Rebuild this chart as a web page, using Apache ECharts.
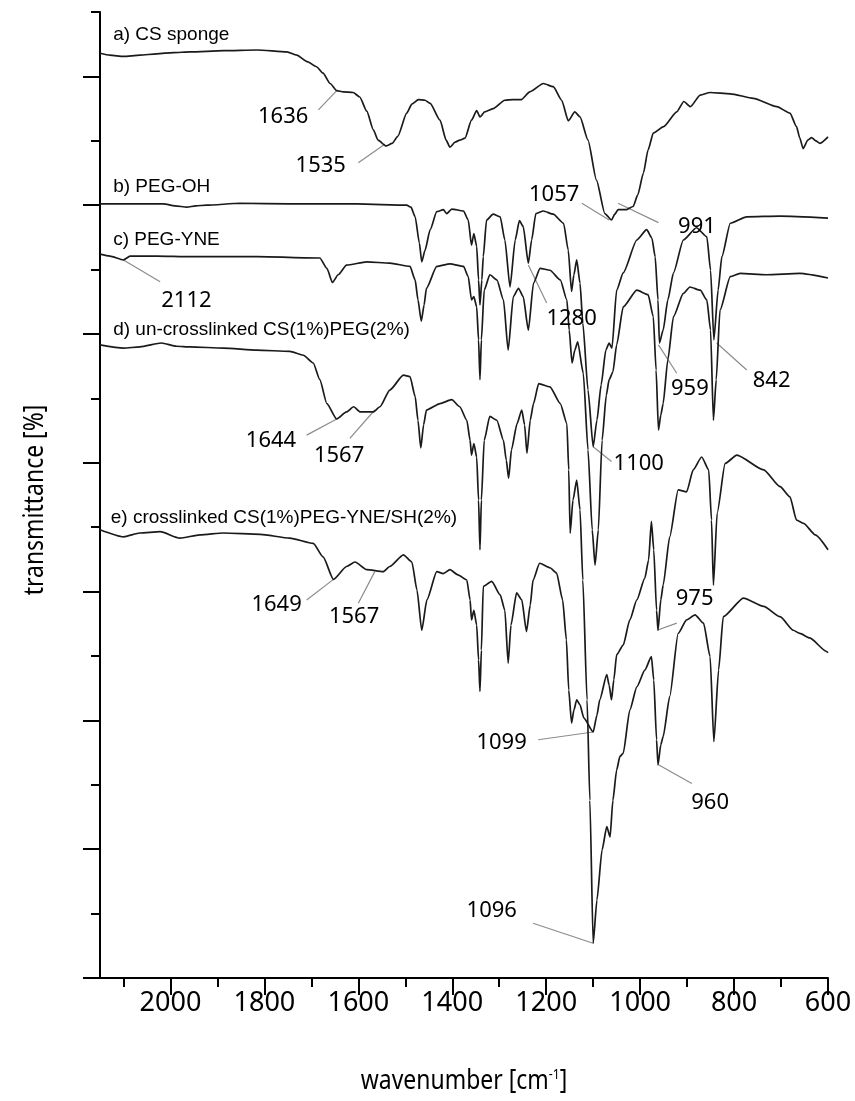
<!DOCTYPE html>
<html>
<head>
<meta charset="utf-8">
<title>FTIR spectra</title>
<script src="https://cdn.jsdelivr.net/npm/echarts@6.0.0/dist/echarts.min.js"></script>
<style>
  html, body { margin: 0; padding: 0; background: #fff; }
  #chart { width: 855px; height: 1101px; }
</style>
</head>
<body>
<div id="chart"></div>
<script>
// spectra as [wavenumber, offset transmittance]
var csSponge = [
  [2150,143.6],[2129,143.3],[2100,143.1],[2065,143.3],[2029,143.5],[1994,143.7],[1958,143.8],[1887,144.0],
  [1816,144.1],[1752,143.8],[1731,143.3],[1709,142.3],[1689,141.5],[1675,140.5],[1660,138.9],[1646,137.8],
  [1632,137.6],[1611,137.5],[1597,136.8],[1582,134.6],[1568,131.7],[1558,130.1],[1541,129.2],[1528,129.6],
  [1516,130.7],[1497,134.3],[1486,135.7],[1472,136.4],[1458,136.3],[1447,135.8],[1426,133.2],[1413,130.1],
  [1405,129.0],[1394,129.8],[1384,130.1],[1373,130.4],[1359,133.2],[1348,134.7],[1341,133.7],[1331,134.5],
  [1313,135.0],[1288,136.3],[1271,136.4],[1253,136.4],[1235,137.6],[1206,138.9],[1185,138.4],[1167,136.3],
  [1153,133.1],[1139,134.5],[1128,133.7],[1111,130.1],[1093,123.9],[1075,118.7],[1061,117.7],[1054,118.6],
  [1047,119.3],[1029,119.3],[1015,119.8],[1005,121.6],[993,125.0],[983,128.6],[972,131.2],[950,132.2],
  [922,134.5],[907,136.1],[893,135.3],[872,137.1],[851,137.5],[808,137.3],[759,136.6],[709,135.3],
  [681,134.3],[667,132.2],[660,130.4],[653,128.8],[643,130.1],[635,130.5],[626,130.0],[617,129.6],[600,130.6]
];
var pegOH = [
  [2150,120.2],[2065,120.2],[2015,120.2],[1990,119.9],[1965,119.7],[1946,119.9],[1923,120.0],[1852,120.3],
  [1746,120.2],[1603,120.2],[1497,120.0],[1488,119.7],[1479,118.2],[1470,114.1],[1465,111.2],[1458,113.0],
  [1447,116.2],[1433,119.0],[1419,119.3],[1412,118.7],[1401,119.4],[1376,119.1],[1366,117.7],[1359,113.8],
  [1354,115.6],[1348,113.6],[1344,108.4],[1341,104.5],[1337,108.4],[1334,112.0],[1327,117.7],[1313,118.6],
  [1298,118.2],[1288,114.6],[1277,107.3],[1266,114.6],[1257,117.6],[1249,116.7],[1238,111.0],[1231,114.6],
  [1222,118.7],[1206,119.1],[1185,118.6],[1163,117.2],[1153,113.0],[1146,106.6],[1141,109.2],[1135,111.5],
  [1128,107.9],[1122,101.7],[1111,91.3],[1100,82.5],[1092,86.6],[1083,92.1],[1073,97.5],[1066,98.6],
  [1060,97.8],[1050,106.8],[1036,109.5],[1007,114.6],[986,116.2],[975,114.9],[968,112.0],[962,105.3],
  [959,98.6],[951,100.6],[941,105.3],[929,109.5],[908,114.6],[880,116.5],[858,115.1],[850,109.9],
  [843,99.1],[834,106.8],[826,112.0],[808,117.2],[773,118.2],[702,118.3],[600,118.0]
];
var pegYNE = [
  [2150,112.4],[2129,112.1],[2100,111.5],[2086,112.1],[2029,112.1],[1958,112.0],[1816,112.0],[1682,111.8],
  [1667,110.2],[1655,108.0],[1643,109.2],[1625,110.7],[1582,111.2],[1533,111.0],[1490,110.5],[1479,108.4],
  [1473,105.3],[1466,102.0],[1460,104.5],[1455,107.1],[1433,110.5],[1405,110.9],[1376,110.5],[1366,108.9],
  [1359,105.3],[1354,105.8],[1348,104.2],[1344,99.1],[1341,92.9],[1338,99.1],[1332,106.8],[1320,109.2],
  [1305,108.4],[1291,105.3],[1281,97.5],[1270,105.8],[1259,107.1],[1249,105.8],[1238,100.6],[1227,107.9],
  [1213,110.2],[1192,109.9],[1170,108.4],[1156,105.3],[1151,100.6],[1145,95.5],[1139,97.5],[1133,98.8],
  [1121,93.9],[1111,82.0],[1102,69.6],[1096,64.1],[1089,69.6],[1081,83.5],[1072,90.5],[1066,92.9],
  [1058,94.1],[1050,98.3],[1036,104.2],[1007,106.8],[983,106.1],[972,102.7],[966,94.4],[961,85.1],
  [956,87.4],[951,89.2],[941,96.0],[929,102.7],[908,106.3],[894,107.3],[872,106.8],[858,105.3],
  [850,100.6],[844,86.6],[838,92.9],[830,103.7],[808,108.9],[787,109.4],[731,109.2],[660,109.4],[600,108.7]
];
var unCrosslinked = [
  [2150,98.3],[2100,97.8],[2065,98.0],[2019,98.6],[1987,98.1],[1958,98.0],[1887,97.8],[1816,97.5],
  [1746,97.3],[1717,96.7],[1696,95.5],[1682,92.9],[1667,89.2],[1646,86.8],[1625,87.9],[1610,88.7],
  [1596,87.9],[1568,87.9],[1554,88.7],[1533,91.3],[1504,93.6],[1490,93.4],[1479,90.3],[1473,86.6],
  [1467,82.3],[1461,85.9],[1455,88.2],[1426,89.2],[1401,89.8],[1384,88.7],[1369,86.6],[1362,83.5],
  [1359,81.2],[1354,83.0],[1348,80.9],[1344,74.2],[1341,66.5],[1338,74.2],[1332,83.5],[1320,87.2],
  [1305,86.6],[1291,83.5],[1285,80.4],[1280,77.6],[1274,82.0],[1262,86.1],[1252,88.2],[1246,85.9],
  [1241,81.5],[1234,86.6],[1227,89.2],[1216,92.3],[1192,91.8],[1170,89.2],[1156,86.1],[1152,78.9],
  [1149,69.1],[1143,74.2],[1135,77.3],[1128,72.7],[1122,61.8],[1113,43.2],[1107,27.6],[1100,5.4],
  [1092,12.1],[1081,19.9],[1071,23.5],[1064,21.9],[1058,27.6],[1050,32.3],[1043,34.4],[1036,34.9],
  [1022,41.6],[1007,45.2],[990,47.8],[976,49.9],[971,46.3],[965,37.0],[962,33.1],[956,36.2],
  [951,37.5],[937,43.7],[919,53.5],[901,55.6],[883,56.4],[865,55.1],[851,49.9],[843,36.7],
  [833,47.8],[823,56.1],[780,59.0],[737,57.7],[702,56.1],[674,54.0],[660,53.5],[639,52.8],[603,50.7],[600,50.5]
];
var crosslinked = [
  [2150,69.6],[2100,68.5],[2065,69.1],[2022,69.3],[1980,68.3],[1937,68.8],[1887,69.1],[1809,68.9],
  [1746,68.3],[1696,67.5],[1675,65.4],[1653,61.9],[1625,63.9],[1607,64.6],[1582,63.4],[1547,63.1],
  [1533,63.9],[1504,65.7],[1486,64.6],[1475,60.2],[1465,54.0],[1454,58.7],[1433,63.1],[1419,62.8],
  [1405,63.4],[1388,62.6],[1369,61.8],[1362,58.7],[1359,55.6],[1354,57.1],[1348,54.8],[1344,49.4],
  [1341,44.5],[1338,50.9],[1334,60.8],[1316,61.6],[1298,59.5],[1288,57.1],[1281,48.9],[1275,54.8],
  [1263,59.8],[1252,58.7],[1242,53.8],[1234,57.9],[1228,61.8],[1214,64.4],[1192,63.7],[1178,62.9],
  [1165,58.7],[1157,52.5],[1152,44.7],[1146,39.6],[1141,41.6],[1135,43.2],[1128,42.4],[1120,40.4],
  [1100,38.2],[1092,40.8],[1086,43.2],[1071,47.1],[1066,45.5],[1061,43.2],[1056,46.3],[1050,50.2],
  [1036,51.7],[1022,55.6],[1007,58.7],[990,62.1],[982,64.9],[976,70.9],[971,66.5],[965,57.1],
  [962,54.0],[956,58.7],[951,61.0],[937,68.5],[919,75.8],[901,75.5],[887,78.9],[869,80.9],
  [854,78.9],[848,71.1],[844,61.0],[836,72.2],[819,79.9],[794,81.2],[737,78.9],[702,76.3],
  [681,74.7],[667,71.1],[652,70.6],[627,68.8],[600,66.5]
];

var spectra = [csSponge, pegOH, pegYNE, unCrosslinked, crosslinked];
var curveNames = [
  'a) CS sponge',
  'b) PEG-OH',
  'c) PEG-YNE',
  'd) un-crosslinked CS(1%)PEG(2%)',
  'e) crosslinked CS(1%)PEG-YNE/SH(2%)'
];
var curveNameAt = [[2122,146.5],[2122,122.9],[2122,114.6],[2122,100.6],[2127,71.5]];

// peak label: text, text position, leader start, leader end
var peakText = ['1636','1535','1057','991','2112','1280','959','842','1100','1644','1567','1649','1567','975','1099','960','1096'];
var peakTextAt = [[1760,133.7],[1680,126.1],[1183,121.6],[879,116.6],[1966,105.1],[1146,102.3],[894,91.5],[720,92.7],
  [1003,79.8],[1786,83.4],[1641,81.1],[1774,57.9],[1609,56.1],[884,58.9],[1295,36.5],[851,27.2],[1316,10.4]];
var leaderFrom = [[1685,134.8],[1600,126.6],[1124,120.3],[1047,120.3],[2100,111.5],[1199,104.8],[922,93.9],[773,94.4],
  [1061,80.2],[1710,84.3],[1618,83.8],[1710,58.7],[1600,58.2],[922,55.1],[1217,37.0],[890,30.2],[1228,8.5]];
var leaderTo = [[1646,137.8],[1543,129.5],[1066,117.7],[961,117.3],[2022,108.1],[1238,110.7],[961,98.3],[837,98.6],
  [1100,82.5],[1646,86.8],[1565,88.2],[1653,61.9],[1565,63.1],[964,54.0],[1100,38.2],[961,33.1],[1100,5.4]];

var xMajorTicks = [600, 800, 1000, 1200, 1400, 1600, 1800, 2000];
var xMinorTicks = [700, 900, 1100, 1300, 1500, 1700, 1900, 2100];
var yMajorTicks = [0, 20, 40, 60, 80, 100, 120, 140];

var myChart = echarts.init(document.getElementById('chart'), null, {renderer: 'canvas'});

var series = [];
spectra.forEach(function (d, i) {
  series.push({
    name: curveNames[i],
    type: 'line',
    data: d,
    showSymbol: false,
    smooth: 0.2,
    smoothMonotone: 'x',
    lineStyle: {color: '#1a1a1a', width: 1.7},
    z: 3
  });
});

// gray leader lines
series.push({
  type: 'lines',
  coordinateSystem: 'cartesian2d',
  silent: true,
  lineStyle: {color: '#8c8c8c', width: 1.2, opacity: 1},
  data: leaderFrom.map(function (p, i) { return {coords: [p, leaderTo[i]]}; }),
  z: 2
});

// peak numbers
series.push({
  type: 'scatter',
  symbolSize: 0,
  silent: true,
  itemStyle: {opacity: 1},
  data: peakTextAt.map(function (p, i) { return [p[0], p[1], peakText[i]]; }),
  label: {
    show: true,
    position: 'inside',
    opacity: 1,
    formatter: function (p) { return p.data[2]; },
    fontFamily: 'Noto Sans',
    fontSize: 22,
    color: '#000'
  },
  z: 4
});

// curve names
series.push({
  type: 'scatter',
  symbolSize: 0,
  silent: true,
  itemStyle: {opacity: 1},
  data: curveNameAt.map(function (p, i) { return [p[0], p[1], curveNames[i]]; }),
  label: {
    show: true,
    position: 'inside',
    opacity: 1,
    align: 'left',
    verticalAlign: 'middle',
    formatter: function (p) { return p.data[2]; },
    fontFamily: 'Liberation Sans',
    fontSize: 19,
    color: '#000'
  },
  z: 4
});

var option = {
  animation: false,
  backgroundColor: '#fff',
  grid: {left: 100, right: 27, top: 12, bottom: 123, containLabel: false, outerBoundsMode: 'none'},
  graphic: [
    {
      type: 'text',
      x: 35,
      y: 500,
      rotation: Math.PI / 2,
      scaleX: 0.82,
      style: {
        text: 'transmittance [%]',
        font: '28px "Noto Sans"',
        fill: '#000',
        align: 'center',
        verticalAlign: 'middle'
      }
    },
    {
      type: 'text',
      x: 464,
      y: 1081,
      scaleX: 0.82,
      style: {
        text: 'wavenumber [cm{sup|-1}]',
        font: '28px "Noto Sans"',
        fill: '#000',
        align: 'center',
        verticalAlign: 'middle',
        rich: {
          sup: {font: '15px "Noto Sans"', fill: '#000', verticalAlign: 'top', padding: [0, 0, 13, 0]}
        }
      }
    }
  ],
  xAxis: [
    {
      type: 'value',
      min: 600,
      max: 2150,
      inverse: true,
      interval: 100,
      axisLine: {show: true, onZero: false, lineStyle: {color: '#000', width: 2}},
      axisTick: {show: true, inside: false, length: 9, customValues: xMinorTicks, lineStyle: {color: '#000', width: 2}},
      axisLabel: {
        show: true,
        customValues: xMajorTicks,
        margin: 12,
        formatter: function (v) { return String(v); },
        fontFamily: 'Noto Sans',
        fontSize: 27,
        color: '#000'
      },
      splitLine: {show: false}
    },
    {
      type: 'value',
      min: 600,
      max: 2150,
      inverse: true,
      interval: 200,
      position: 'bottom',
      axisLine: {show: false},
      axisTick: {show: true, length: 17, customValues: xMajorTicks, lineStyle: {color: '#000', width: 2}},
      axisLabel: {show: false},
      splitLine: {show: false}
    }
  ],
  yAxis: [
    {
      type: 'value',
      min: 0,
      max: 150,
      interval: 10,
      axisLine: {show: true, onZero: false, lineStyle: {color: '#000', width: 2}},
      axisTick: {show: true, inside: false, length: 9, lineStyle: {color: '#000', width: 2}},
      axisLabel: {show: false},
      splitLine: {show: false}
    },
    {
      type: 'value',
      min: 0,
      max: 150,
      interval: 20,
      position: 'left',
      axisLine: {show: false},
      axisTick: {show: true, length: 17, customValues: yMajorTicks, lineStyle: {color: '#000', width: 2}},
      axisLabel: {show: false},
      splitLine: {show: false}
    }
  ],
  series: series
};

myChart.setOption(option);
</script>
</body>
</html>
